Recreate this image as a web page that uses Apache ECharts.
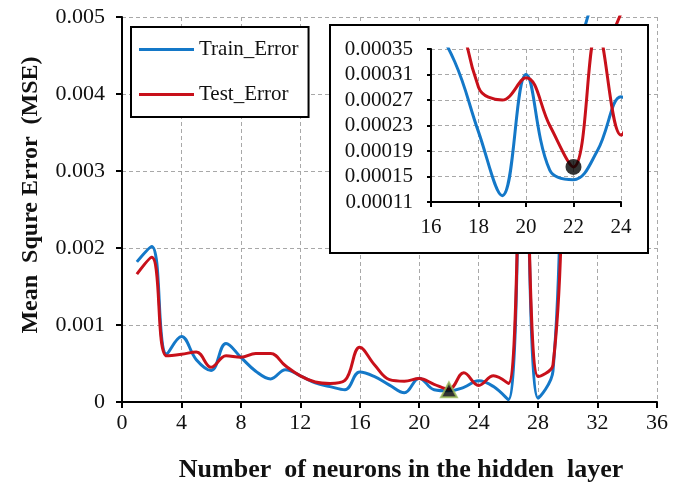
<!DOCTYPE html>
<html>
<head>
<meta charset="utf-8">
<script src="https://cdn.jsdelivr.net/npm/echarts@6/dist/echarts.min.js"></script>
<style>
  html, body { margin: 0; padding: 0; background: #fff; }
  #chart-container { width: 686px; height: 483px; }
</style>
</head>
<body>
<div id="chart-container"></div>
<script>
var dom = document.getElementById('chart-container');
var myChart = echarts.init(dom, null, { renderer: 'canvas' });

// number of neurons in the hidden layer
var neurons = [1, 2, 3, 4, 5, 6, 7, 8, 9, 10, 11, 12, 13, 14, 15, 16, 17, 18, 19, 20,
               21, 22, 23, 24, 25, 26, 27, 28, 29, 30, 31, 32, 33, 34];
var trainError = [0.00182, 0.00202, 0.00062, 0.00085, 0.00055, 0.00041, 0.00076, 0.00058, 0.00040, 0.00030,
                  0.00042, 0.00034, 0.00025, 0.00020, 0.00016, 0.00039, 0.00033, 0.00022, 0.00012, 0.00031,
                  0.00016, 0.000145, 0.00019, 0.000275, 0.00020, 0.00003, 0.0045, 0.00005, 0.00040, 0.0046,
                  0.0048, 0.0056];
var testError = [0.00166, 0.00188, 0.00060, 0.00062, 0.00065, 0.00045, 0.00060, 0.00058, 0.00063, 0.00063,
                 0.00047, 0.00034, 0.00026, 0.00024, 0.00028, 0.00071, 0.00048, 0.00029, 0.00027, 0.000305,
                 0.00023, 0.000165, 0.00038, 0.000215, 0.00034, 0.00024, 0.0045, 0.00033, 0.00048, 0.0036,
                 0.0042, 0.0046, 0.0048, 0.0053];
var bestNeurons = 22;

// zoomed panel y ticks
var insetYLabels = ['0.00011', '0.00015', '0.00019', '0.00023', '0.00027', '0.00031', '0.00035'];
var insetBase = 0.00011, insetStep = 0.00004;

var serif = '"Liberation Serif", "Times New Roman", serif';
var blue = '#1478c8';
var red = '#c8101a';
var gridGray = '#a8a8a8';

function pairs(ys) {
  return ys.map(function (y, i) { return [neurons[i], y]; });
}
function insetPairs(ys) {
  return ys.map(function (y, i) { return [neurons[i], (y - insetBase) / insetStep]; });
}

var option = {
  animation: false,
  backgroundColor: '#fff',
  legend: {
    data: ['Train_Error', 'Test_Error'],
    orient: 'vertical',
    left: 131,
    top: 27,
    icon: 'rect',
    itemWidth: 55,
    itemHeight: 3,
    itemGap: 24,
    padding: [12, 10, 12, 8],
    borderColor: '#000',
    borderWidth: 2,
    backgroundColor: '#fff',
    textStyle: { fontFamily: serif, fontSize: 21, color: '#111' }
  },
  grid: [
    { left: 122, right: 29, top: 17, bottom: 81 },
    { left: 431, right: 65, top: 49, bottom: 281 }
  ],
  xAxis: [
    {
      type: 'value', gridIndex: 0, min: 0, max: 36, interval: 4,
      axisLine: { lineStyle: { color: '#000', width: 2 } },
      axisTick: { inside: false, length: 6, lineStyle: { color: '#000', width: 2 } },
      axisLabel: { fontFamily: serif, fontSize: 22, color: '#111', margin: 10 },
      splitLine: { show: true, lineStyle: { color: gridGray, type: [4, 3], width: 1 } }
    },
    {
      type: 'value', gridIndex: 1, min: 16, max: 24, interval: 2, z: 20,
      axisLine: { lineStyle: { color: '#000', width: 2 } },
      axisTick: { inside: false, length: 5, lineStyle: { color: '#000', width: 2 } },
      axisLabel: { fontFamily: serif, fontSize: 21, color: '#111', margin: 15 },
      splitLine: { show: true, lineStyle: { color: gridGray, type: [4, 3], width: 1 } }
    }
  ],
  yAxis: [
    {
      type: 'value', gridIndex: 0, min: 0, max: 0.005, interval: 0.001,
      axisLine: { show: true, lineStyle: { color: '#000', width: 2 } },
      axisTick: { show: true, inside: false, length: 6, lineStyle: { color: '#000', width: 2 } },
      axisLabel: { fontFamily: serif, fontSize: 22, color: '#111', margin: 17 },
      splitLine: { show: true, lineStyle: { color: gridGray, type: [4, 3], width: 1 } }
    },
    {
      type: 'value', gridIndex: 1, min: 0, max: insetYLabels.length - 1, interval: 1, z: 20,
      axisLine: { show: true, lineStyle: { color: '#000', width: 2 } },
      axisTick: { show: true, inside: false, length: 4, lineStyle: { color: '#000', width: 2 } },
      axisLabel: {
        fontFamily: serif, fontSize: 21, color: '#111', margin: 18,
        formatter: function (v) { return insetYLabels[Math.round(v)]; }
      },
      splitLine: { show: true, lineStyle: { color: gridGray, type: [4, 3], width: 1 } }
    }
  ],
  graphic: [
    {
      type: 'rect', z: 10,
      shape: { x: 330, y: 25, width: 318, height: 228 },
      style: { fill: '#fff', stroke: '#000', lineWidth: 2 }
    },
    {
      type: 'text', z: 10, x: 401, y: 470,
      style: {
        text: 'Number  of neurons in the hidden  layer',
        font: 'bold 26px ' + serif, fill: '#111',
        align: 'center', verticalAlign: 'middle'
      }
    },
    {
      type: 'text', z: 10, x: 31, y: 195, rotation: Math.PI / 2,
      style: {
        text: 'Mean  Squre Error  (MSE)',
        font: 'bold 24px ' + serif, fill: '#111',
        align: 'center', verticalAlign: 'middle'
      }
    }
  ],
  series: [
    {
      name: 'Train_Error', type: 'line', xAxisIndex: 0, yAxisIndex: 0,
      data: pairs(trainError), smooth: 0.4, showSymbol: false,
      lineStyle: { color: blue, width: 3 }, itemStyle: { color: blue }
    },
    {
      name: 'Test_Error', type: 'line', xAxisIndex: 0, yAxisIndex: 0,
      data: pairs(testError), smooth: 0.4, showSymbol: false,
      lineStyle: { color: red, width: 3 }, itemStyle: { color: red }
    },
    {
      name: 'best', type: 'scatter', xAxisIndex: 0, yAxisIndex: 0, z: 5,
      data: [[bestNeurons, trainError[bestNeurons - 1]]],
      symbol: 'triangle', symbolSize: [16, 15], symbolOffset: [0, -1],
      itemStyle: { color: '#000', borderColor: '#9bbb59', borderWidth: 2 }
    },
    {
      name: 'Train_Error', type: 'line', xAxisIndex: 1, yAxisIndex: 1, z: 21,
      data: insetPairs(trainError), smooth: 0.4, showSymbol: false,
      lineStyle: { color: blue, width: 3 }, itemStyle: { color: blue }
    },
    {
      name: 'Test_Error', type: 'line', xAxisIndex: 1, yAxisIndex: 1, z: 21,
      data: insetPairs(testError), smooth: 0.4, showSymbol: false,
      lineStyle: { color: red, width: 3 }, itemStyle: { color: red }
    },
    {
      name: 'bestInset', type: 'scatter', xAxisIndex: 1, yAxisIndex: 1, z: 22,
      data: [[bestNeurons, (testError[bestNeurons - 1] - insetBase) / insetStep]],
      symbol: 'circle', symbolSize: 16,
      itemStyle: { color: '#000' }
    }
  ]
};

myChart.setOption(option);
window.addEventListener('resize', myChart.resize);
</script>
</body>
</html>
